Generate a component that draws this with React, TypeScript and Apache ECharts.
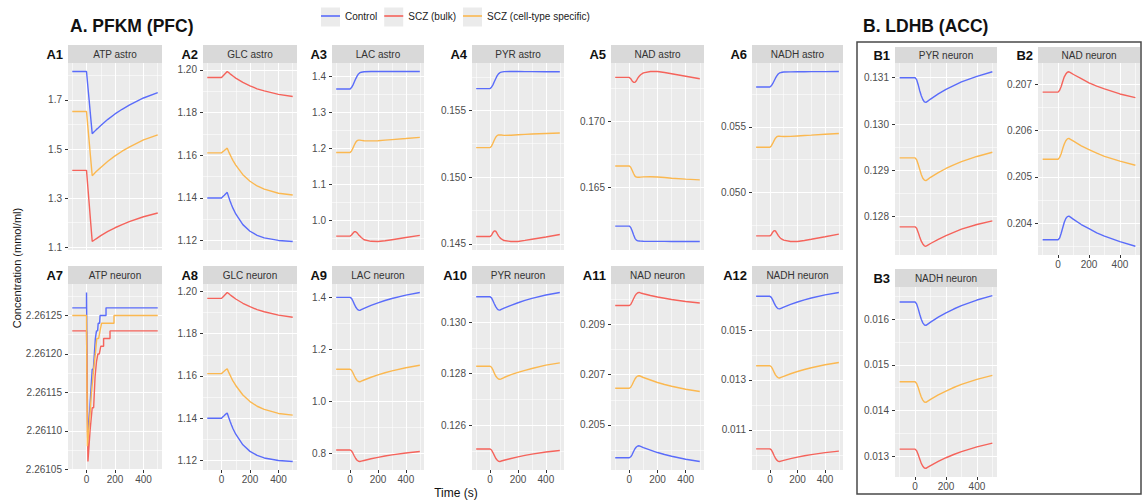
import React, { useEffect, useRef } from "react";
import * as echarts from "echarts";

// ---- shared sampling times (s) ----
const TIME = [-100, 0, 10, 20, 30, 40, 50, 60, 70, 80, 100, 150, 200, 250, 300, 400, 500];
const X_TICKS = [0, 200, 400];
const X_MINOR = [-100, 100, 300, 500];
const SERIES_NAMES = ["Control", "SCZ (bulk)", "SCZ (cell-type specific)"];

// ---- A. PFKM (PFC) ----
// A1 ATP astro
const atpAstroControl = [1.816, 1.816, 1.752, 1.689, 1.625, 1.562, 1.568, 1.574, 1.58, 1.585, 1.596, 1.621, 1.643, 1.662, 1.679, 1.708, 1.73];
const atpAstroBulk = [1.413, 1.413, 1.34, 1.268, 1.195, 1.123, 1.127, 1.131, 1.135, 1.139, 1.147, 1.164, 1.179, 1.192, 1.204, 1.224, 1.239];
const atpAstroCell = [1.653, 1.653, 1.587, 1.522, 1.456, 1.391, 1.397, 1.403, 1.409, 1.414, 1.425, 1.45, 1.472, 1.491, 1.508, 1.537, 1.558];
const atpAstroTicks = [1.1, 1.3, 1.5, 1.7];

// A2 GLC astro
const glcAstroControl = [1.14, 1.14, 1.1407, 1.1413, 1.142, 1.1426, 1.1405, 1.1386, 1.1368, 1.1352, 1.1325, 1.1275, 1.1244, 1.1225, 1.1213, 1.1201, 1.1196];
const glcAstroBulk = [1.1964, 1.1964, 1.1971, 1.1978, 1.1985, 1.1992, 1.1987, 1.1981, 1.1976, 1.1971, 1.1961, 1.1941, 1.1925, 1.1911, 1.1901, 1.1885, 1.1875];
const glcAstroCell = [1.1611, 1.1611, 1.1617, 1.1622, 1.1628, 1.1633, 1.1617, 1.1603, 1.1589, 1.1576, 1.1554, 1.1509, 1.1478, 1.1456, 1.1441, 1.1422, 1.1414];
const glcTicks = [1.12, 1.14, 1.16, 1.18, 1.2];

// A3 LAC astro
const lacAstroControl = [1.3656, 1.3656, 1.3695, 1.3762, 1.385, 1.3937, 1.4014, 1.4072, 1.4106, 1.4121, 1.4135, 1.414, 1.4141, 1.4141, 1.4141, 1.4141, 1.414];
const lacAstroBulk = [0.956, 0.956, 0.959, 0.964, 0.968, 0.968, 0.965, 0.96, 0.956, 0.952, 0.946, 0.9415, 0.941, 0.943, 0.946, 0.952, 0.958];
const lacAstroCell = [1.1888, 1.1888, 1.1929, 1.2008, 1.2094, 1.217, 1.2215, 1.2232, 1.223, 1.2225, 1.2215, 1.221, 1.2215, 1.223, 1.2245, 1.2275, 1.2307];
const lacAstroTicks = [1.0, 1.1, 1.2, 1.3, 1.4];

// A4 PYR astro
const pyrAstroControl = [0.15663, 0.15663, 0.15673, 0.15691, 0.15714, 0.15737, 0.15758, 0.15773, 0.15782, 0.15786, 0.1579, 0.15791, 0.15791, 0.1579, 0.1579, 0.15789, 0.15789];
const pyrAstroBulk = [0.14555, 0.14555, 0.14565, 0.14585, 0.14598, 0.14595, 0.14578, 0.1456, 0.14547, 0.14537, 0.14525, 0.14518, 0.14518, 0.14526, 0.14535, 0.14552, 0.1457];
const pyrAstroCell = [0.15221, 0.15221, 0.15232, 0.15254, 0.15278, 0.15299, 0.15311, 0.15316, 0.15316, 0.15315, 0.15313, 0.15314, 0.15317, 0.1532, 0.15323, 0.15327, 0.15331];
const pyrAstroTicks = [0.145, 0.15, 0.155];

// A5 NAD astro
const nadAstroControl = [0.16205, 0.16205, 0.16195, 0.1617, 0.1614, 0.16112, 0.16098, 0.16093, 0.16092, 0.16091, 0.1609, 0.16089, 0.16089, 0.16089, 0.16088, 0.16088, 0.16088];
const nadAstroBulk = [0.17335, 0.17335, 0.17325, 0.17308, 0.17298, 0.17297, 0.1731, 0.1733, 0.17344, 0.17355, 0.1737, 0.1738, 0.1738, 0.17372, 0.17363, 0.17344, 0.17325];
const nadAstroCell = [0.16662, 0.16662, 0.16652, 0.1663, 0.16605, 0.16585, 0.16577, 0.16576, 0.16576, 0.16577, 0.16579, 0.1658, 0.16578, 0.16574, 0.16569, 0.16562, 0.16556];
const nadAstroTicks = [0.165, 0.17];

// A6 NADH astro
const nadhAstroControl = [0.05803, 0.05803, 0.05812, 0.05828, 0.05849, 0.0587, 0.05888, 0.05902, 0.0591, 0.05913, 0.05917, 0.05918, 0.05919, 0.05919, 0.0592, 0.0592, 0.05921];
const nadhAstroBulk = [0.04669, 0.04669, 0.04678, 0.04697, 0.04709, 0.04706, 0.0469, 0.04672, 0.04659, 0.04648, 0.04636, 0.04626, 0.04626, 0.04634, 0.04643, 0.04662, 0.04682];
const nadhAstroCell = [0.05344, 0.05344, 0.05354, 0.05373, 0.05394, 0.05413, 0.05424, 0.05428, 0.05428, 0.05427, 0.05426, 0.05427, 0.0543, 0.05433, 0.05436, 0.05443, 0.05449];
const nadhAstroTicks = [0.05, 0.055];

// A7 ATP neuron: stepwise trace, [time, value] samples
const atpNeuronControl: [number, number][] = [
  [-100, 2.26126], [0, 2.26126], [0, 2.26128], [8, 2.26109], [20, 2.26112], [30, 2.26115], [40, 2.26118],
  [48, 2.26118], [55, 2.2612], [62, 2.26122], [70, 2.26123], [78, 2.26123], [82, 2.26124], [92, 2.26124],
  [95, 2.26125], [137, 2.26125], [137, 2.26126], [500, 2.26126],
];
const atpNeuronBulk: [number, number][] = [
  [-100, 2.26123], [0, 2.26123], [10, 2.26106], [25, 2.2611], [40, 2.26113], [50, 2.26113], [60, 2.26117],
  [70, 2.26119], [80, 2.2612], [90, 2.2612], [100, 2.26121], [120, 2.26121], [120, 2.26122], [165, 2.26122],
  [165, 2.26123], [500, 2.26123],
];
const atpNeuronCell: [number, number][] = [
  [-100, 2.26125], [0, 2.26125], [6, 2.26108], [20, 2.26111], [35, 2.26115], [50, 2.26118], [62, 2.2612],
  [72, 2.26122], [85, 2.26122], [95, 2.26123], [106, 2.26124], [193, 2.26124], [193, 2.26125], [500, 2.26125],
];
const atpNeuronTicks = [2.26105, 2.2611, 2.26115, 2.2612, 2.26125];

// A8 GLC neuron
const glcNeuronControl = [1.14, 1.14, 1.1407, 1.1413, 1.142, 1.1425, 1.1405, 1.1386, 1.1368, 1.1352, 1.1325, 1.1275, 1.1244, 1.1225, 1.1213, 1.1201, 1.1196];
const glcNeuronBulk = [1.1966, 1.1966, 1.1973, 1.198, 1.1987, 1.1994, 1.1989, 1.1983, 1.1978, 1.1973, 1.1963, 1.1943, 1.1927, 1.1913, 1.1903, 1.1887, 1.1877];
const glcNeuronCell = [1.1611, 1.1611, 1.1617, 1.1623, 1.1629, 1.1634, 1.1618, 1.1604, 1.159, 1.1577, 1.1555, 1.151, 1.1479, 1.1457, 1.1442, 1.1423, 1.1415];

// A9 LAC neuron
const lacNeuronControl = [1.4, 1.4, 1.396, 1.386, 1.374, 1.363, 1.3555, 1.351, 1.35, 1.3526, 1.3576, 1.369, 1.379, 1.388, 1.3958, 1.4089, 1.419];
const lacNeuronBulk = [0.8126, 0.8126, 0.809, 0.8001, 0.7894, 0.7796, 0.7729, 0.7689, 0.768, 0.7694, 0.7722, 0.7786, 0.7842, 0.7892, 0.7936, 0.8008, 0.8065];
const lacNeuronCell = [1.1234, 1.1234, 1.1195, 1.1098, 1.0982, 1.0876, 1.0803, 1.076, 1.075, 1.0774, 1.082, 1.0925, 1.1018, 1.11, 1.1173, 1.1293, 1.1387];
const lacNeuronTicks = [0.8, 1.0, 1.2, 1.4];

// A10 PYR neuron
const pyrNeuronControl = [0.13099, 0.13099, 0.13095, 0.13084, 0.13072, 0.13061, 0.13053, 0.13048, 0.13047, 0.1305, 0.13055, 0.13066, 0.13076, 0.13085, 0.13093, 0.13106, 0.13116];
const pyrNeuronBulk = [0.12507, 0.12507, 0.12503, 0.12493, 0.12482, 0.12471, 0.12464, 0.12459, 0.12458, 0.1246, 0.12463, 0.1247, 0.12476, 0.12482, 0.12487, 0.12495, 0.12501];
const pyrNeuronCell = [0.12829, 0.12829, 0.12825, 0.12815, 0.12802, 0.12791, 0.12784, 0.12779, 0.12778, 0.1278, 0.12785, 0.12796, 0.12805, 0.12813, 0.1282, 0.12833, 0.12842];
const pyrNeuronTicks = [0.126, 0.128, 0.13];

// A11 NAD neuron
const nadNeuronControl = [0.20368, 0.20368, 0.20372, 0.20381, 0.20393, 0.20404, 0.20411, 0.20415, 0.20416, 0.20414, 0.20409, 0.20399, 0.20389, 0.20381, 0.20374, 0.20362, 0.20353];
const nadNeuronBulk = [0.20977, 0.20977, 0.20981, 0.20992, 0.21004, 0.21015, 0.21023, 0.21028, 0.21029, 0.21027, 0.21024, 0.21017, 0.21011, 0.21006, 0.21001, 0.20993, 0.20987];
const nadNeuronCell = [0.20646, 0.20646, 0.2065, 0.2066, 0.20672, 0.20683, 0.20691, 0.20695, 0.20696, 0.20694, 0.20689, 0.20679, 0.20669, 0.20661, 0.20654, 0.20642, 0.20633];
const nadNeuronTicks = [0.205, 0.207, 0.209];

// A12 NADH neuron
const nadhNeuronControl = [0.016355, 0.016355, 0.016315, 0.016214, 0.016092, 0.015981, 0.015906, 0.01586, 0.01585, 0.015875, 0.015923, 0.016032, 0.016128, 0.016213, 0.016288, 0.016413, 0.01651];
const nadhNeuronBulk = [0.01024, 0.01024, 0.010199, 0.010097, 0.009975, 0.009863, 0.009786, 0.00974, 0.00973, 0.009746, 0.009776, 0.009846, 0.009907, 0.009961, 0.010009, 0.010088, 0.01015];
const nadhNeuronCell = [0.01357, 0.01357, 0.013531, 0.013433, 0.013315, 0.013207, 0.013134, 0.01309, 0.01308, 0.013103, 0.013148, 0.013251, 0.013341, 0.013421, 0.013492, 0.013609, 0.0137];
const nadhNeuronTicks = [0.011, 0.013, 0.015];

// ---- B. LDHB (ACC) ----
// B1 PYR neuron
const ldhbPyrControl = [0.131, 0.131, 0.13096, 0.13085, 0.13072, 0.13061, 0.13053, 0.13048, 0.13047, 0.13049, 0.13054, 0.13065, 0.13075, 0.13083, 0.13091, 0.13103, 0.13113];
const ldhbPyrBulk = [0.12778, 0.12778, 0.12775, 0.12766, 0.12756, 0.12747, 0.12741, 0.12737, 0.12736, 0.12738, 0.12742, 0.12751, 0.12759, 0.12766, 0.12773, 0.12783, 0.12791];
const ldhbPyrCell = [0.12927, 0.12927, 0.12923, 0.12913, 0.12902, 0.12891, 0.12883, 0.12879, 0.12878, 0.1288, 0.12885, 0.12895, 0.12904, 0.12912, 0.12919, 0.1293, 0.12939];
const ldhbPyrTicks = [0.128, 0.129, 0.13, 0.131];

// B2 NAD neuron
const ldhbNadControl = [0.20364, 0.20364, 0.20368, 0.20378, 0.2039, 0.20402, 0.2041, 0.20414, 0.20415, 0.20413, 0.20408, 0.20397, 0.20388, 0.20379, 0.20372, 0.2036, 0.2035];
const ldhbNadBulk = [0.20683, 0.20683, 0.20687, 0.20695, 0.20706, 0.20716, 0.20722, 0.20726, 0.20727, 0.20725, 0.20721, 0.20712, 0.20703, 0.20696, 0.2069, 0.20679, 0.20671];
const ldhbNadCell = [0.20538, 0.20538, 0.20542, 0.2055, 0.20561, 0.20571, 0.20578, 0.20582, 0.20583, 0.20581, 0.20577, 0.20567, 0.20559, 0.20551, 0.20544, 0.20534, 0.20525];
const ldhbNadTicks = [0.204, 0.205, 0.206, 0.207];

// B3 NADH neuron
const ldhbNadhControl = [0.01637, 0.01637, 0.016329, 0.016227, 0.016105, 0.015993, 0.015916, 0.01587, 0.01586, 0.015884, 0.015932, 0.016039, 0.016134, 0.016218, 0.016292, 0.016414, 0.01651];
const ldhbNadhBulk = [0.01316, 0.01316, 0.013126, 0.013042, 0.012942, 0.012849, 0.012786, 0.012748, 0.01274, 0.012761, 0.0128, 0.012891, 0.012972, 0.013043, 0.013105, 0.013209, 0.01329];
const ldhbNadhCell = [0.01463, 0.01463, 0.014594, 0.014504, 0.014396, 0.014297, 0.01423, 0.014189, 0.01418, 0.014202, 0.014245, 0.014342, 0.014428, 0.014505, 0.014572, 0.014683, 0.01477];
const ldhbNadhTicks = [0.013, 0.014, 0.015, 0.016];

// ---- styling / layout ----
const FONT = '"Liberation Sans", Arial, Helvetica, sans-serif';
const COLORS = ["#5a6cfa", "#f5635b", "#fbb850"];
const PANEL_BG = "#EBEBEB";
const STRIP_BG = "#D9D9D9";
const CLEAR = "rgba(0,0,0,0)";
const COL_LEFT = [68, 203, 332, 472, 611, 752];
const COL_WIDTH = [94, 94, 92, 92, 93, 91];
const ROW_TOP = [63, 284];
const ROW_HEIGHT = [187, 186];

type Pts = [number, number][];
const onTime = (vals: number[]): Pts => TIME.map((t, k) => [t, vals[k]] as [number, number]);

interface Panel {
  tag: string;
  strip: string;
  box: [number, number, number, number];
  stripH: number;
  ticks: number[];
  digits: number;
  xLabels: boolean;
  lines: Pts[];
}

const aBox = (row: number, col: number): [number, number, number, number] => [
  COL_LEFT[col], ROW_TOP[row], COL_WIDTH[col], ROW_HEIGHT[row],
];

const PANELS: Panel[] = [
  { tag: "A1", strip: "ATP astro", box: aBox(0, 0), stripH: 18, ticks: atpAstroTicks, digits: 1, xLabels: false,
    lines: [onTime(atpAstroControl), onTime(atpAstroBulk), onTime(atpAstroCell)] },
  { tag: "A2", strip: "GLC astro", box: aBox(0, 1), stripH: 18, ticks: glcTicks, digits: 2, xLabels: false,
    lines: [onTime(glcAstroControl), onTime(glcAstroBulk), onTime(glcAstroCell)] },
  { tag: "A3", strip: "LAC astro", box: aBox(0, 2), stripH: 18, ticks: lacAstroTicks, digits: 1, xLabels: false,
    lines: [onTime(lacAstroControl), onTime(lacAstroBulk), onTime(lacAstroCell)] },
  { tag: "A4", strip: "PYR astro", box: aBox(0, 3), stripH: 18, ticks: pyrAstroTicks, digits: 3, xLabels: false,
    lines: [onTime(pyrAstroControl), onTime(pyrAstroBulk), onTime(pyrAstroCell)] },
  { tag: "A5", strip: "NAD astro", box: aBox(0, 4), stripH: 18, ticks: nadAstroTicks, digits: 3, xLabels: false,
    lines: [onTime(nadAstroControl), onTime(nadAstroBulk), onTime(nadAstroCell)] },
  { tag: "A6", strip: "NADH astro", box: aBox(0, 5), stripH: 18, ticks: nadhAstroTicks, digits: 3, xLabels: false,
    lines: [onTime(nadhAstroControl), onTime(nadhAstroBulk), onTime(nadhAstroCell)] },
  { tag: "A7", strip: "ATP neuron", box: aBox(1, 0), stripH: 18, ticks: atpNeuronTicks, digits: 5, xLabels: true,
    lines: [atpNeuronControl, atpNeuronBulk, atpNeuronCell] },
  { tag: "A8", strip: "GLC neuron", box: aBox(1, 1), stripH: 18, ticks: glcTicks, digits: 2, xLabels: true,
    lines: [onTime(glcNeuronControl), onTime(glcNeuronBulk), onTime(glcNeuronCell)] },
  { tag: "A9", strip: "LAC neuron", box: aBox(1, 2), stripH: 18, ticks: lacNeuronTicks, digits: 1, xLabels: true,
    lines: [onTime(lacNeuronControl), onTime(lacNeuronBulk), onTime(lacNeuronCell)] },
  { tag: "A10", strip: "PYR neuron", box: aBox(1, 3), stripH: 18, ticks: pyrNeuronTicks, digits: 3, xLabels: true,
    lines: [onTime(pyrNeuronControl), onTime(pyrNeuronBulk), onTime(pyrNeuronCell)] },
  { tag: "A11", strip: "NAD neuron", box: aBox(1, 4), stripH: 18, ticks: nadNeuronTicks, digits: 3, xLabels: true,
    lines: [onTime(nadNeuronControl), onTime(nadNeuronBulk), onTime(nadNeuronCell)] },
  { tag: "A12", strip: "NADH neuron", box: aBox(1, 5), stripH: 18, ticks: nadhNeuronTicks, digits: 3, xLabels: true,
    lines: [onTime(nadhNeuronControl), onTime(nadhNeuronBulk), onTime(nadhNeuronCell)] },
  { tag: "B1", strip: "PYR neuron", box: [895, 63, 102, 192], stripH: 16, ticks: ldhbPyrTicks, digits: 3, xLabels: false,
    lines: [onTime(ldhbPyrControl), onTime(ldhbPyrBulk), onTime(ldhbPyrCell)] },
  { tag: "B2", strip: "NAD neuron", box: [1038, 63, 102, 192], stripH: 16, ticks: ldhbNadTicks, digits: 3, xLabels: true,
    lines: [onTime(ldhbNadControl), onTime(ldhbNadBulk), onTime(ldhbNadCell)] },
  { tag: "B3", strip: "NADH neuron", box: [895, 287, 102, 190], stripH: 18, ticks: ldhbNadhTicks, digits: 3, xLabels: true,
    lines: [onTime(ldhbNadhControl), onTime(ldhbNadhBulk), onTime(ldhbNadhCell)] },
];

function buildOption() {
  const grid: any[] = [];
  const xAxis: any[] = [];
  const yAxis: any[] = [];
  const series: any[] = [];
  const graphic: any[] = [];

  PANELS.forEach((p, i) => {
    const [left, top, width, height] = p.box;
    const ys = p.lines.flat().map((d) => d[1]);
    const lo = Math.min(...ys);
    const hi = Math.max(...ys);
    const pad = (hi - lo) * 0.05;
    const yMin = lo - pad;
    const yMax = hi + pad;
    const step = p.ticks[1] - p.ticks[0];
    const minors: number[] = [];
    for (let k = -1; k < p.ticks.length; k++) {
      const v = +(p.ticks[0] + (k + 0.5) * step).toFixed(p.digits + 3);
      if (v > yMin && v < yMax) minors.push(v);
    }

    grid.push({ left, top, width, height, show: true, backgroundColor: PANEL_BG, borderWidth: 0, containLabel: false });

    const hiddenLine = { show: false, onZero: false };
    // x: major (labels, ticks, grid) and minor (grid only)
    xAxis.push({
      type: "value", gridIndex: i, position: "bottom", axisLine: hiddenLine, min: -130, max: 530,
      axisTick: { show: p.xLabels, customValues: X_TICKS, length: 3, lineStyle: { color: "#333", width: 1 } },
      axisLabel: { show: p.xLabels, customValues: X_TICKS, color: "#4D4D4D", fontSize: 10, fontFamily: FONT, margin: 4 },
      splitLine: { show: true, lineStyle: { color: "#FFFFFF", width: 1.1 } },
    });
    xAxis.push({
      type: "value", gridIndex: i, position: "bottom", axisLine: hiddenLine, min: -130, max: 530,
      axisTick: { show: false, customValues: X_MINOR, length: 0, lineStyle: { color: CLEAR } },
      axisLabel: { show: false, customValues: X_MINOR, color: CLEAR },
      splitLine: { show: true, lineStyle: { color: "#FFFFFF", width: 0.55 } },
    });
    // y: major and minor
    yAxis.push({
      type: "value", gridIndex: i, position: "left", axisLine: hiddenLine, min: yMin, max: yMax,
      axisTick: { show: true, customValues: p.ticks, length: 3, lineStyle: { color: "#333", width: 1 } },
      axisLabel: {
        show: true, customValues: p.ticks, color: "#4D4D4D", fontSize: 10, fontFamily: FONT, margin: 6,
        formatter: (v: number) => v.toFixed(p.digits),
      },
      splitLine: { show: true, lineStyle: { color: "#FFFFFF", width: 1.1 } },
    });
    yAxis.push({
      type: "value", gridIndex: i, position: "left", offset: 0, axisLine: hiddenLine, min: yMin, max: yMax,
      axisTick: { show: false, customValues: minors, length: 0, lineStyle: { color: CLEAR } },
      axisLabel: { show: false, customValues: minors, color: CLEAR },
      splitLine: { show: true, lineStyle: { color: "#FFFFFF", width: 0.55 } },
    });

    p.lines.forEach((pts, s) => {
      series.push({
        type: "line",
        name: SERIES_NAMES[s],
        xAxisIndex: 2 * i,
        yAxisIndex: 2 * i,
        data: pts,
        showSymbol: false,
        symbol: "none",
        silent: true,
        color: COLORS[s],
        lineStyle: { color: COLORS[s], width: 1.4 },
        z: 3,
      });
    });

    // facet strip and panel tag
    graphic.push({
      type: "rect", silent: true, z: 1,
      shape: { x: left, y: top - p.stripH, width, height: p.stripH },
      style: { fill: STRIP_BG },
    });
    graphic.push({
      type: "text", silent: true, z: 2, x: left + width / 2, y: top - p.stripH / 2,
      style: {
        text: p.strip, fill: "#333333", font: `10px ${FONT}`,
        textAlign: "center", textVerticalAlign: "middle", align: "center", verticalAlign: "middle",
      },
    });
    graphic.push({
      type: "text", silent: true, z: 2, x: left - 5, y: top - p.stripH / 2 + 0.5,
      style: {
        text: p.tag, fill: "#111111", font: `bold 13px ${FONT}`,
        textAlign: "right", textVerticalAlign: "middle", align: "right", verticalAlign: "middle",
      },
    });
  });

  const txt = (text: string, x: number, y: number, font: string, extra: any = {}) => ({
    type: "text", silent: true, z: 2, x, y, ...extra,
    style: {
      text, fill: "#111111", font,
      textAlign: extra.alignH || "left", textVerticalAlign: "middle",
      align: extra.alignH || "left", verticalAlign: "middle",
    },
  });

  graphic.push(txt("A. PFKM (PFC)", 70, 25.5, `bold 17.5px ${FONT}`));
  graphic.push(txt("B. LDHB (ACC)", 863, 25.5, `bold 17.5px ${FONT}`));
  graphic.push({ ...txt("Time (s)", 456, 493, `12px ${FONT}`, { alignH: "center" }) });
  graphic.push({
    ...txt("Concentration (mmol/ml)", 17, 268, `11px ${FONT}`, { alignH: "center" }),
    rotation: Math.PI / 2,
  });
  // box around part B
  graphic.push({
    type: "rect", silent: true, z: 0,
    shape: { x: 857, y: 42, width: 284, height: 452 },
    style: { fill: "none", stroke: "#4a4a4a", lineWidth: 1.5 },
  });
  // legend key backgrounds
  [321, 384.2, 463].forEach((x) => {
    graphic.push({
      type: "rect", silent: true, z: 0,
      shape: { x, y: 7.5, width: 19, height: 19 },
      style: { fill: "#EBEBEB" },
    });
  });

  return {
    animation: false,
    backgroundColor: "#FFFFFF",
    textStyle: { fontFamily: FONT },
    legend: {
      data: SERIES_NAMES,
      left: 321,
      top: 11,
      padding: 0,
      icon: "rect",
      itemWidth: 19,
      itemHeight: 1.6,
      itemGap: 7,
      selectedMode: false,
      z: 10,
      textStyle: { fontSize: 10, color: "#1A1A1A", fontFamily: FONT },
    },
    grid,
    xAxis,
    yAxis,
    series,
    graphic,
  };
}

export default function App() {
  const ref = useRef<HTMLDivElement>(null);
  useEffect(() => {
    if (!ref.current) return;
    const chart = echarts.init(ref.current, null, { renderer: "svg" });
    chart.setOption(buildOption() as any);
    return () => chart.dispose();
  }, []);
  return (
    <div
      ref={ref}
      style={{ position: "absolute", left: 0, top: 0, width: 1143, height: 500, background: "#FFFFFF" }}
    />
  );
}
